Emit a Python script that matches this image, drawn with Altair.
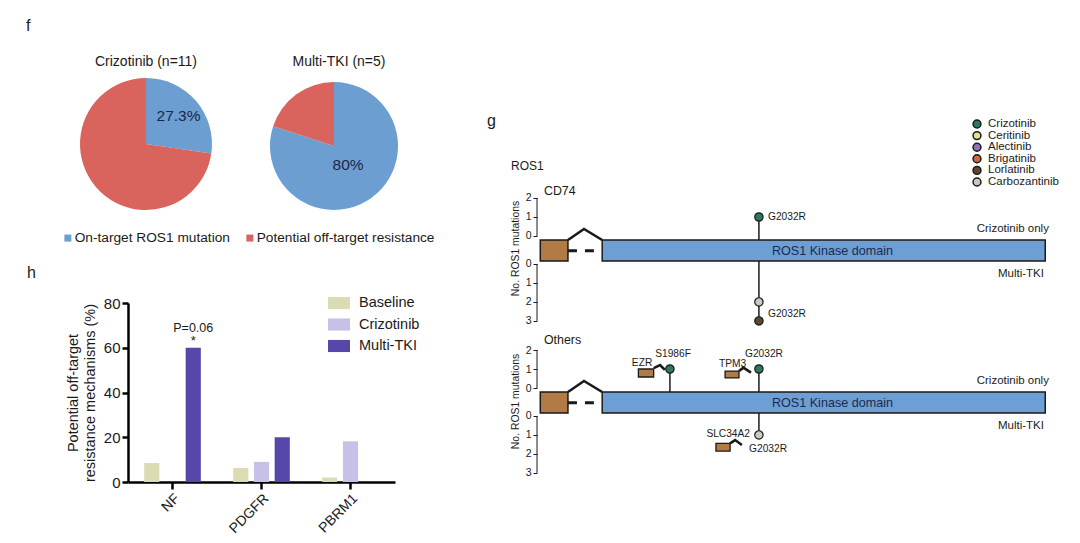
import altair as alt
import pandas as pd

FONT = "Liberation Sans"
INK = "#1a1a1a"

# ---------------- panel f : pie charts ----------------
pie_titles = ["Crizotinib (n=11)", "Multi-TKI (n=5)"]
pie_types = ["On-target ROS1 mutation", "Potential off-target resistance"]
pie_crizotinib_pct = [27.3, 72.7]
pie_multitki_pct = [80.0, 20.0]
pie_crizotinib_text = ["27.3%", ""]
pie_multitki_text = ["80%", ""]
pie_colors = ["#6c9ed2", "#d8645d"]

# ---------------- panel h : grouped bars ----------------
bar_genes = ["NF", "PDGFR", "PBRM1"]
bar_groups = ["Baseline", "Crizotinib", "Multi-TKI"]
bar_baseline = [8.5, 6.3, 2.0]
bar_crizotinib = [0.0, 9.0, 18.2]
bar_multitki = [60.0, 20.0, 0.0]
bar_colors = ["#dcdcb4", "#c7c1e9", "#5647ab"]
sig_gene = ["NF"]
sig_group = ["Multi-TKI"]
sig_value = [60.0]
sig_pvalue = ["P=0.06"]
sig_star = ["*"]

# ---------------- panel g : lollipop schematic ----------------
drugs = ["Crizotinib", "Ceritinib", "Alectinib", "Brigatinib", "Lorlatinib", "Carbozantinib"]
drug_colors = ["#2b7a5c", "#e2e28c", "#9171b4", "#c96a44", "#5a4930", "#c9c9c2"]
arms = ["Crizotinib only", "Multi-TKI"]
mut_track = ["CD74", "CD74", "CD74", "Others", "Others", "Others"]
mut_position = [2032, 2032, 2032, 1986, 2032, 2032]
mut_name = ["G2032R", "G2032R", "G2032R", "S1986F", "G2032R", "G2032R"]
mut_arm = ["Crizotinib only", "Multi-TKI", "Multi-TKI", "Crizotinib only", "Crizotinib only", "Multi-TKI"]
mut_count = [1, 2, 3, 1, 1, 1]
mut_drug = ["Crizotinib", "Carbozantinib", "Lorlatinib", "Crizotinib", "Crizotinib", "Carbozantinib"]

# schematic protein coordinates (amino-acid axis of the drawing)
fusion_start, fusion_end = 1919.0, 1933.3
kinase_start, kinase_end = 1951.0, 2180.0
X_DOM = [1917.3, 2180.9]
GAP = 1.47                     # gap between the two arms (in count units)
BOX_TOP, BOX_BOT = -0.21, -1.32
INTRON_X = [1933.3, 1941.6, 1951.0]
INTRON_Y = [-0.21, 0.37, -0.21]
DASH_X = [1933.3, 1946.7]
DASH_Y = -0.77

# fusion partners of the "Others" track
partner_name = ["EZR", "TPM3", "SLC34A2"]
partner_arm = ["Crizotinib only", "Crizotinib only", "Multi-TKI"]
partner_x0 = [1969.7, 2014.5, 2009.8]
partner_x1 = [1977.6, 2021.7, 2017.1]
partner_c0 = [1.0, 0.89, 1.44]
partner_c1 = [0.58, 0.53, 1.85]
partner_caret_x = [[1977.6, 1980.9, 1983.4], [2021.7, 2024.0, 2027.9], [2017.1, 2019.7, 2023.2]]
partner_caret_c = [[1.05, 1.21, 0.95], [0.89, 1.07, 0.81], [1.44, 1.27, 1.53]]
partner_label_x = [1971.6, 2018.4, 2027.4]
partner_label_c = [1.32, 1.26, 0.95]
partner_label_align = ["center", "center", "right"]

# mutation label anchors (track, text, position, arm, count-level, align)
lab_track = ["CD74", "CD74", "Others", "Others", "Others"]
lab_text = ["G2032R", "G2032R", "S1986F", "G2032R", "G2032R"]
lab_x = [2036.7, 2036.7, 1987.6, 2034.6, 2026.9]
lab_arm = ["Crizotinib only", "Multi-TKI", "Crizotinib only", "Crizotinib only", "Multi-TKI"]
lab_c = [1.0, 2.63, 1.79, 1.79, 1.74]
lab_align = ["left", "left", "center", "center", "left"]


def lvl(arm, c):
    return c if arm == arms[0] else -(GAP + c)


# ======================= panel f =======================
def pie_df(vals, texts):
    return pd.DataFrame({"type": pie_types, "value": vals, "label": texts, "ord": [0, 1]})


pie_color = alt.Color(
    "type:N",
    scale=alt.Scale(domain=pie_types, range=pie_colors),
    legend=alt.Legend(
        orient="none", legendX=-67, legendY=190, direction="horizontal", columns=2,
        title=None, symbolType="square", symbolSize=49, symbolStrokeWidth=0,
        labelFontSize=13.7, labelFont=FONT, labelColor=INK, columnPadding=13, labelOffset=0,
        labelLimit=400,
    ),
)

pie_specs = [
    (pie_crizotinib_pct, pie_crizotinib_text, 18, 103, 66, 43, pie_titles[0]),
    (pie_multitki_pct, pie_multitki_text, 206, 105, 64, 24, pie_titles[1]),
]
f_layers = []
for vals, texts, cx, cy, r, lr, ttl in pie_specs:
    d = pie_df(vals, texts)
    f_layers.append(
        alt.Chart(d).mark_arc(outerRadius=r).encode(
            theta=alt.Theta("value:Q", stack=True),
            color=pie_color,
            order=alt.Order("ord:Q"),
            x=alt.value(cx), y=alt.value(cy),
        )
    )
    f_layers.append(
        alt.Chart(d).mark_text(radius=lr, fontSize=15.5, color="#1b2745", font=FONT).encode(
            theta=alt.Theta("value:Q", stack=True),
            order=alt.Order("ord:Q"),
            text="label:N",
            x=alt.value(cx), y=alt.value(cy),
        )
    )
    f_layers.append(
        alt.Chart(pd.DataFrame({"t": [ttl]})).mark_text(fontSize=14, color=INK, font=FONT).encode(
            text="t:N", x=alt.value(cx + (0 if cx < 100 else 5)), y=alt.value(21)
        )
    )
f_layers.append(
    alt.Chart(pd.DataFrame({"t": ["f"]})).mark_text(fontSize=16, align="left", color=INK, font=FONT).encode(
        text="t:N", x=alt.value(-102), y=alt.value(-15)
    )
)
f_chart = alt.layer(*f_layers).properties(width=269, height=210)

# ======================= panel h =======================
h_rows = []
for i, gname in enumerate(bar_genes):
    for grp, arr in zip(bar_groups, [bar_baseline, bar_crizotinib, bar_multitki]):
        h_rows.append({"gene": gname, "group": grp, "value": arr[i]})
h_df = pd.DataFrame(h_rows)

hx = alt.X(
    "gene:N", sort=bar_genes, scale=alt.Scale(paddingInner=0, paddingOuter=0),
    axis=alt.Axis(title=None, labelAngle=-45, labelFontSize=14, labelFont=FONT, labelColor=INK,
                  tickSize=7, tickWidth=2.5, tickColor="black", domainWidth=2.5, domainColor="black",
                  labelPadding=2),
)
hxo = alt.XOffset("group:N", sort=bar_groups, scale=alt.Scale(paddingInner=0.27, paddingOuter=0.78))
hy = alt.Y(
    "value:Q", scale=alt.Scale(domain=[0, 80], nice=False),
    axis=alt.Axis(values=[0, 20, 40, 60, 80], grid=False, labelFontSize=15, labelFont=FONT, labelColor=INK,
                  tickSize=6, tickWidth=2.5, tickColor="black", domainWidth=2.5, domainColor="black",
                  title=["Potential off-target", "resistance mechanisms (%)"], titleFontSize=14.5,
                  titleFont=FONT, titleFontWeight="normal", titleColor=INK, titlePadding=6,
                  titleLineHeight=17),
)
bars = alt.Chart(h_df).mark_bar().encode(
    x=hx, xOffset=hxo, y=hy,
    color=alt.Color(
        "group:N", scale=alt.Scale(domain=bar_groups, range=bar_colors),
        legend=alt.Legend(orient="none", legendX=200, legendY=-11, title=None,
                          symbolType="M-1,-0.55H1V0.55H-1Z", symbolSize=484, symbolStrokeWidth=0,
                          labelFontSize=14.5, labelFont=FONT, labelColor=INK, labelOffset=9, rowPadding=3.5),
    ),
)
sig_df = pd.DataFrame({"gene": sig_gene, "group": sig_group, "value": sig_value,
                       "p": sig_pvalue, "s": sig_star})
sig_p = alt.Chart(sig_df).mark_text(fontSize=12.5, dy=-20, color=INK, font=FONT).encode(
    x=hx, xOffset=hxo, y=hy, text="p:N")
sig_s = alt.Chart(sig_df).mark_text(fontSize=13, dy=-7, color=INK, font=FONT).encode(
    x=hx, xOffset=hxo, y=hy, text="s:N")
h_letter = alt.Chart(pd.DataFrame({"t": ["h"]})).mark_text(fontSize=16, align="left", color=INK, font=FONT).encode(
    text="t:N", x=alt.value(-101), y=alt.value(-30))
h_chart = alt.layer(bars, sig_p, sig_s, h_letter).properties(width=267, height=179)

# ======================= panel g =======================
mut_df = pd.DataFrame({"track": mut_track, "pos": mut_position, "name": mut_name,
                       "arm": mut_arm, "count": mut_count, "drug": mut_drug})
mut_df["lvl"] = [lvl(a, c) for a, c in zip(mut_df["arm"], mut_df["count"])]
drug_scale = alt.Scale(domain=drugs, range=drug_colors)


def track_chart(tname, height, ydom, title_y, label_lvl, first):
    xs = alt.Scale(domain=X_DOM, nice=False, zero=False)
    ys = alt.Scale(domain=ydom, nice=False, zero=False)
    yaxis = alt.Axis(
        values=[2, 1, 0, -GAP, -GAP - 1, -GAP - 2, -GAP - 3],
        labelExpr="datum.value >= 0 ? datum.label : '' + round(-datum.value - 1.47)",
        domain=False, grid=False, tickSize=4, tickColor=INK, tickWidth=1,
        labelFontSize=10.5, labelFont=FONT, labelColor=INK, labelPadding=2,
        title="No. ROS1 mutations", titleFontSize=10.4, titleFont=FONT, titleFontWeight="normal",
        titleColor=INK, titleX=-22, titleY=title_y, titleAngle=270, titleAlign="center",
        titleBaseline="middle",
    )

    def X(f):
        return alt.X(f, scale=xs, axis=None)

    def Y(f):
        return alt.Y(f, scale=ys, axis=yaxis)

    layers = []
    axis_df = pd.DataFrame({"a": [0.0, -GAP], "b": [2.0, -GAP - 3]})
    layers.append(alt.Chart(axis_df).mark_rule(color=INK, strokeWidth=1).encode(
        x=alt.value(0), y=Y("a:Q"), y2="b:Q"))

    m = mut_df[mut_df["track"] == tname]
    stems = []
    for (pos, arm), grp in m.groupby(["pos", "arm"]):
        top = grp["count"].max()
        if arm == arms[0]:
            stems.append({"pos": pos, "lo": BOX_TOP, "hi": lvl(arm, top)})
        else:
            stems.append({"pos": pos, "lo": BOX_BOT, "hi": lvl(arm, top)})
    layers.append(alt.Chart(pd.DataFrame(stems)).mark_rule(color="#2a2a2a", strokeWidth=1.6).encode(
        x=X("pos:Q"), y=Y("lo:Q"), y2="hi:Q"))

    dom_df = pd.DataFrame({"x0": [fusion_start, kinase_start], "x1": [fusion_end, kinase_end],
                           "y0": [BOX_TOP, BOX_TOP], "y1": [BOX_BOT, BOX_BOT],
                           "kind": ["fusion", "kinase"]})
    layers.append(alt.Chart(dom_df[dom_df.kind == "fusion"]).mark_rect(
        fill="#b27b46", stroke=INK, strokeWidth=1.5).encode(x=X("x0:Q"), x2="x1:Q", y=Y("y0:Q"), y2="y1:Q"))
    layers.append(alt.Chart(dom_df[dom_df.kind == "kinase"]).mark_rect(
        fill="#6d9fd5", stroke=INK, strokeWidth=1.5).encode(x=X("x0:Q"), x2="x1:Q", y=Y("y0:Q"), y2="y1:Q"))

    layers.append(alt.Chart(pd.DataFrame({"x0": [DASH_X[0]], "x1": [DASH_X[1]], "y": [DASH_Y]})).mark_rule(
        color=INK, strokeWidth=3, strokeDash=[9, 8]).encode(x=X("x0:Q"), x2="x1:Q", y=Y("y:Q")))

    car_rows = [{"g": "intron", "i": i, "x": x, "y": y} for i, (x, y) in enumerate(zip(INTRON_X, INTRON_Y))]
    if tname == "Others":
        for k, nm in enumerate(partner_name):
            for i, (x, c) in enumerate(zip(partner_caret_x[k], partner_caret_c[k])):
                car_rows.append({"g": nm, "i": i, "x": x, "y": lvl(partner_arm[k], c)})
        pb = pd.DataFrame({"x0": partner_x0, "x1": partner_x1,
                           "y0": [lvl(a, c) for a, c in zip(partner_arm, partner_c0)],
                           "y1": [lvl(a, c) for a, c in zip(partner_arm, partner_c1)]})
        layers.append(alt.Chart(pb).mark_rect(fill="#b27b46", stroke=INK, strokeWidth=1.3).encode(
            x=X("x0:Q"), x2="x1:Q", y=Y("y0:Q"), y2="y1:Q"))
    layers.append(alt.Chart(pd.DataFrame(car_rows)).mark_line(color=INK, strokeWidth=2.6).encode(
        x=X("x:Q"), y=Y("y:Q"), detail="g:N", order="i:Q"))

    layers.append(alt.Chart(m).mark_circle(size=70, stroke=INK, strokeWidth=1.2, opacity=1).encode(
        x=X("pos:Q"), y=Y("lvl:Q"),
        color=alt.Color("drug:N", scale=drug_scale, legend=None)))

    # mutation labels
    lab = pd.DataFrame({"track": lab_track, "t": lab_text, "x": lab_x, "arm": lab_arm, "c": lab_c,
                        "align": lab_align})
    lab = lab[lab.track == tname].copy()
    lab["y"] = [lvl(a, c) for a, c in zip(lab["arm"], lab["c"])]
    if tname == "Others":
        pl = pd.DataFrame({"track": "Others", "t": partner_name, "x": partner_label_x,
                           "arm": partner_arm, "c": partner_label_c, "align": partner_label_align})
        pl["y"] = [lvl(a, c) for a, c in zip(pl["arm"], pl["c"])]
        lab = pd.concat([lab, pl], ignore_index=True)
    for al in ["left", "center", "right"]:
        sub = lab[lab["align"] == al]
        if len(sub):
            layers.append(alt.Chart(sub).mark_text(align=al, fontSize=10.2, color=INK, font=FONT).encode(
                x=X("x:Q"), y=Y("y:Q"), text="t:N"))

    # track decorations
    layers.append(alt.Chart(pd.DataFrame({"t": [tname], "x": [1920.9], "y": [label_lvl]})).mark_text(
        align="left", fontSize=12.4, color=INK, font=FONT).encode(x=X("x:Q"), y=Y("y:Q"), text="t:N"))
    layers.append(alt.Chart(pd.DataFrame({"t": ["ROS1 Kinase domain"], "x": [(kinase_start + kinase_end) / 2 + 4.5],
                                          "y": [(BOX_TOP + BOX_BOT) / 2]})).mark_text(
        fontSize=12.6, color="#1c2a4e", font=FONT).encode(x=X("x:Q"), y=Y("y:Q"), text="t:N"))
    layers.append(alt.Chart(pd.DataFrame({"t": [arms[0]], "x": [2181.9], "y": [0.37]})).mark_text(
        align="right", fontSize=11.5, color=INK, font=FONT).encode(x=X("x:Q"), y=Y("y:Q"), text="t:N"))
    layers.append(alt.Chart(pd.DataFrame({"t": [arms[1]], "x": [2179.3], "y": [-2.0]})).mark_text(
        align="right", fontSize=11.5, color=INK, font=FONT).encode(x=X("x:Q"), y=Y("y:Q"), text="t:N"))

    if first:
        layers.append(alt.Chart(pd.DataFrame({"t": ["g"]})).mark_text(
            align="left", fontSize=16, color=INK, font=FONT).encode(text="t:N", x=alt.value(-50), y=alt.value(80)))
        layers.append(alt.Chart(pd.DataFrame({"t": ["ROS1"]})).mark_text(
            align="left", fontSize=12, color=INK, font=FONT).encode(text="t:N", x=alt.value(-26), y=alt.value(125)))

    body = alt.layer(*layers)
    if first:
        # drug key: rows placed by a point scale over the drug list
        key_df = pd.DataFrame({"drug": drugs})
        key_y = alt.Y("drug:N", sort=drugs, scale=alt.Scale(type="point", range=[83, 141], padding=0), axis=None)
        key_pts = alt.Chart(key_df).mark_circle(size=62, stroke=INK, strokeWidth=1.5, opacity=1).encode(
            x=alt.value(440), y=key_y, color=alt.Color("drug:N", scale=drug_scale, legend=None))
        key_txt = alt.Chart(key_df).mark_text(align="left", fontSize=11.5, color=INK, font=FONT).encode(
            x=alt.value(451), y=key_y, text="drug:N")
        return alt.layer(body, key_pts, key_txt).resolve_scale(y="independent").properties(
            width=510, height=height)
    return body.properties(width=510, height=height)


track1 = track_chart("CD74", 290, [-5.0, 10.263], 207, 2.37, True)
track2 = track_chart("Others", 160, [-5.421, 3.0], 70, 2.53, False)

left = alt.vconcat(f_chart, h_chart, spacing=52, bounds="flush").resolve_scale(color="independent")
right = alt.vconcat(track1, track2, spacing=0, bounds="flush")

chart = (
    alt.hconcat(left, right, spacing=409, bounds="flush")
    .resolve_scale(color="independent")
    .properties(padding={"left": 17, "top": 9, "right": 5, "bottom": 5}, background="white")
    .configure(font=FONT)
    .configure_view(stroke="transparent")
)

chart.save("out.html", embed_options={"renderer": "svg", "actions": False})
